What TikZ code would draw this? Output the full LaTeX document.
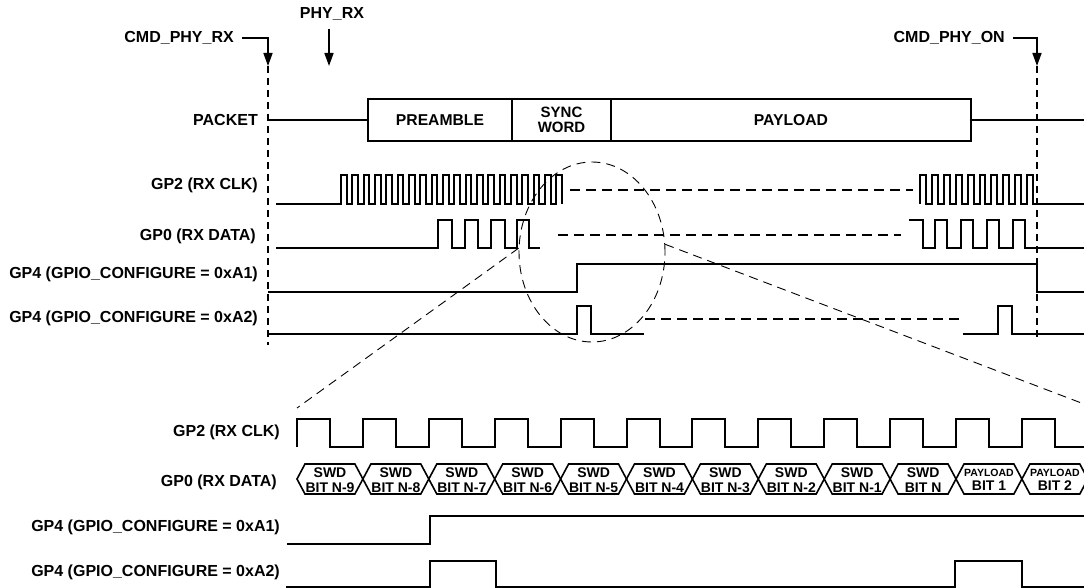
\documentclass[tikz,border=0pt]{standalone}
\usepackage{fontspec}
\setmainfont{Liberation Sans}
\usetikzlibrary{arrows.meta,positioning,calc,shapes.geometric}
\definecolor{ink}{RGB}{0,0,0}
\tikzset{
  lbl/.style={anchor=east,inner sep=0pt,font=\fontsize{16}{17}\selectfont\bfseries},
  pkt/.style={draw=ink,line width=2pt,outer sep=0pt,inner sep=0pt,minimum height=42pt,
    align=center,font=\fontsize{15.7}{16}\selectfont\bfseries},
  sig/.style={line width=2pt,ink},
  bus/.style={line width=1.6pt,ink,line join=miter},
  gapln/.style={line width=2.4pt,dash pattern=on 10pt off 6pt},
  vmark/.style={line width=1.8pt,dash pattern=on 7pt off 5pt},
  zoomln/.style={line width=0.9pt,dash pattern=on 9pt off 6pt},
  arr/.style={-{Triangle[length=13pt,width=9pt]},line width=1.6pt},
  cell/.style={align=center,inner sep=0pt,font=\fontsize{14}{14.5}\selectfont\bfseries},
}
\newcommand{\plword}{{\fontsize{10.5}{12}\selectfont PAYLOAD}}

\begin{document}
\begin{tikzpicture}[x=1pt,y=-1pt]
  \useasboundingbox (0,0) rectangle (1084,588);

  % commands and markers
  \node[lbl] (cmdrx) at (234,38) {CMD\_PHY\_RX};
  \node[lbl,anchor=center] (phyrx) at (332,14) {PHY\_RX};
  \node[lbl] (cmdon) at (1005,38) {CMD\_PHY\_ON};
  \coordinate (rxtip) at (268,66);
  \coordinate (phytip) at (329,66);
  \coordinate (ontip) at (1037,66);
  \draw[arr] ([xshift=8pt]cmdrx.east) -| (rxtip);
  \draw[arr] (phyrx.south -| phytip) ++(0,8) -- (phytip);
  \draw[arr] ([xshift=8pt]cmdon.east) -| (ontip);
  \draw[vmark] (rxtip) -- (268,345);
  \draw[vmark] (ontip) -- (1037,337);

  % packet
  \node[lbl] (lpkt) at (258,120) {PACKET};
  \node[pkt,minimum width=144pt] (pre) at (440,120) {PREAMBLE};
  \node[pkt,minimum width=99pt,right=0pt of pre,font=\fontsize{15}{15}\selectfont\bfseries] (sync) {SYNC\\WORD};
  \node[pkt,minimum width=360pt,right=0pt of sync] (pay) {PAYLOAD};
  \draw[line width=1.3pt] (268,120) -- (pre.west);
  \draw[line width=1.3pt] (pay.east) -- (1084,120);

  % upper traces
  \node[lbl] (lclk) at (258,185) {GP2 (RX CLK)};
  \node[lbl] (ldat) at (256,236) {GP0 (RX DATA)};
  \node[lbl] (la1) at (258,274) {GP4 (GPIO\_CONFIGURE = 0xA1)};
  \node[lbl] (la2) at (258,318) {GP4 (GPIO\_CONFIGURE = 0xA2)};

  \draw[sig] (276,204) -- (335.3,204)
    \foreach \i in {0,...,19} { -- ++(5.67,0) -- ++(0,-29) -- ++(5.67,0) -- ++(0,29) };
  \draw[gapln] (570,190) -- (913,190);
  \draw[sig] (920,204)
    \foreach \i in {0,...,9} { -- ++(0,-29) -- ++(5.95,0) -- ++(0,29) -- ++(5.95,0) } -- (1084,204);

  \draw[sig] (276,248)
    \foreach \r/\f in {438/452,465/478,491/505,517/529} { -- (\r,248) -- (\r,220) -- (\f,220) -- (\f,248) } -- (540,248);
  \draw[gapln] (558,235) -- (901,235);
  \draw[sig] (909,220) -- (923,220) -- (923,248)
    \foreach \r/\f in {935/947,961/973,987/999,1013/1025} { -- (\r,248) -- (\r,220) -- (\f,220) -- (\f,248) } -- (1084,248);

  \draw[sig] (268,292) -- (577,292) -- (577,264) -- (1037,264) -- (1037,292) -- (1084,292);

  \draw[sig] (268,334) -- (577,334) -- (577,306) -- (591,306) -- (591,334) -- (644,334);
  \draw[gapln] (645,319) -- (962,319);
  \draw[sig] (963,334) -- (998,334) -- (998,306) -- (1012,306) -- (1012,334) -- (1084,334);

  % zoom
  \node[zoomln,draw,ellipse,minimum width=146pt,minimum height=180pt,inner sep=0pt] (lens) at (592,252) {};
  \coordinate (zl) at (297,408);
  \coordinate (zr) at (1084,404);
  \draw[zoomln] (lens.177) -- (zl);
  \draw[zoomln] (lens.6) -- (zr);

  % lower traces
  \node[lbl] (lclk2) at (280,432) {GP2 (RX CLK)};
  \node[lbl] (ldat2) at (277,482) {GP0 (RX DATA)};
  \node[lbl] (la12) at (280,527) {GP4 (GPIO\_CONFIGURE = 0xA1)};
  \node[lbl] (la22) at (280,572) {GP4 (GPIO\_CONFIGURE = 0xA2)};

  \draw[sig] (297,447)
    \foreach \k in {0,...,11} { -- ++(0,-28) -- ++(33,0) -- ++(0,28) -- ++(32.9,0) };

  \foreach \up/\dn [count=\k from 0] in {SWD/BIT N-9,SWD/BIT N-8,SWD/BIT N-7,SWD/BIT N-6,
      SWD/BIT N-5,SWD/BIT N-4,SWD/BIT N-3,SWD/BIT N-2,SWD/BIT N-1,SWD/BIT N,
      \plword/BIT 1,\plword/BIT 2} {
    \pgfmathsetmacro{\xa}{297+65.9*\k}
    \draw[bus] (\xa,479) -- ++(8,-15) -- ++(49.9,0) -- ++(8,15) -- ++(-8,15) -- ++(-49.9,0) -- cycle;
    \node[cell] (bit\k) at (\xa+33,480) {\up\\\dn};
  }

  \draw[sig] (287,544) -- (430,544) -- (430,516) -- (1084,516);
  \draw[sig] (286,587) -- (430,587) -- (430,561) -- (496,561) -- (496,587)
    -- (955,587) -- (955,561) -- (1022,561) -- (1022,587) -- (1084,587);
\end{tikzpicture}
\end{document}
